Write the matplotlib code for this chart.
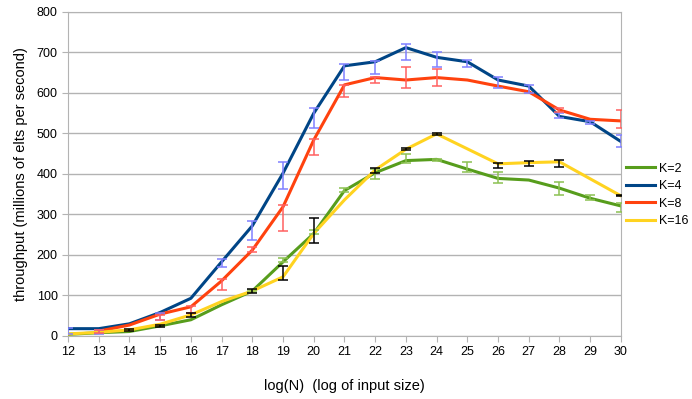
import numpy as np
import matplotlib
matplotlib.use("Agg")
import matplotlib.pyplot as plt

plt.rcParams['font.family'] = ['Liberation Sans Narrow', 'Liberation Sans', 'DejaVu Sans']

logn = list(range(12, 31))
nan = np.nan

# throughput, millions of elements per second
k2 = [4, 8, 11, 25, 40, 77, 111, 183, 253, 359, 403, 433, 436, 412, 389, 385, 365, 340, 321]
k4 = [18, 18, 30, 58, 93, 183, 272, 402, 550, 667, 677, 712, 688, 677, 632, 617, 542, 529, 480]
k8 = [nan, 12, 27, 54, 72, 136, 212, 319, 484, 620, 638, 632, 638, 632, 617, 603, 558, 535, 531]
k16 = [5, 9, 15, 29, 52, 85, 111, 146, 253, 336, 410, 461, 499, 462, 425, 428, 430, 388, 346]

# error bar ranges (low, high)
k2_lo = [nan, nan, nan, nan, nan, nan, 108, 183, 252, 356, 387, 426, 433, 406, 377, nan, 348, 336, 305]
k2_hi = [nan, nan, nan, nan, nan, nan, 114, 193, 262, 365, 412, 449, 438, 430, 406, nan, 379, 348, 328]
k4_lo = [5, 5, nan, 40, nan, 171, 237, 362, 514, 632, 647, 681, 665, 663, 613, 601, 537, 523, 466]
k4_hi = [19, 15, nan, 57, nan, 189, 285, 430, 562, 671, 680, 721, 702, 681, 639, 620, 551, 531, 496]
k8_lo = [nan, 7, nan, 40, 57, 114, 208, 258, 447, 591, 624, 612, 617, nan, nan, nan, 552, nan, 513]
k8_hi = [nan, 15, nan, 52, 74, 140, 220, 323, 486, 620, 640, 663, 658, nan, nan, nan, 562, nan, 558]
k16_lo = [nan, nan, 13, 23, 48, nan, 107, 138, 230, nan, 402, 458, 497, nan, 414, 420, 418, nan, 345]
k16_hi = [nan, nan, 16, 27, 57, nan, 115, 173, 291, nan, 414, 463, 500, nan, 426, 432, 435, nan, 347]

series = [
    ("K=2", k2, k2_lo, k2_hi, "#579d1c", "#8cc152"),
    ("K=4", k4, k4_lo, k4_hi, "#004586", "#8080ff"),
    ("K=8", k8, k8_lo, k8_hi, "#ff420e", "#ff6060"),
    ("K=16", k16, k16_lo, k16_hi, "#ffd320", "#000000"),
]

fig = plt.figure(figsize=(6.92, 3.99), dpi=100)
ax = fig.add_axes([0.0983, 0.158, 0.799, 0.812])

x = np.array(logn)
for name, vals, lo, hi, col, ecol in series:
    ax.plot(x, vals, color=col, lw=2.2, label=name, zorder=3)
for name, vals, lo, hi, col, ecol in series:
    lo = np.array(lo, dtype=float)
    hi = np.array(hi, dtype=float)
    ok = ~np.isnan(lo)
    mid = (lo + hi) / 2
    half = (hi - lo) / 2
    ax.errorbar(x[ok], mid[ok], yerr=half[ok], fmt='none', ecolor=ecol,
                elinewidth=1.1, capsize=3.6, capthick=1.1, zorder=4)

ax.set_xlim(12, 30)
ax.set_ylim(0, 800)
ax.set_xticks(logn)
ax.set_yticks(range(0, 801, 100))
ax.grid(axis='y', color='#b3b3b3', lw=1)
ax.set_axisbelow(True)
for s in ax.spines.values():
    s.set_color('#b3b3b3')
ax.tick_params(colors='#b3b3b3', labelcolor='black', labelsize=9, length=4, direction='out')

ax.set_xlabel("log(N)  (log of input size)", fontsize=10.5, labelpad=15)
ax.set_ylabel("throughput (millions of elts per second)", fontsize=10.5, labelpad=6)

ax.legend(loc='center left', bbox_to_anchor=(1.005, 0.435), frameon=False,
          fontsize=9, handlelength=2.3, labelspacing=0.45, handletextpad=0.3,
          borderaxespad=0, borderpad=0.2)

fig.savefig("out.png", dpi=100)
